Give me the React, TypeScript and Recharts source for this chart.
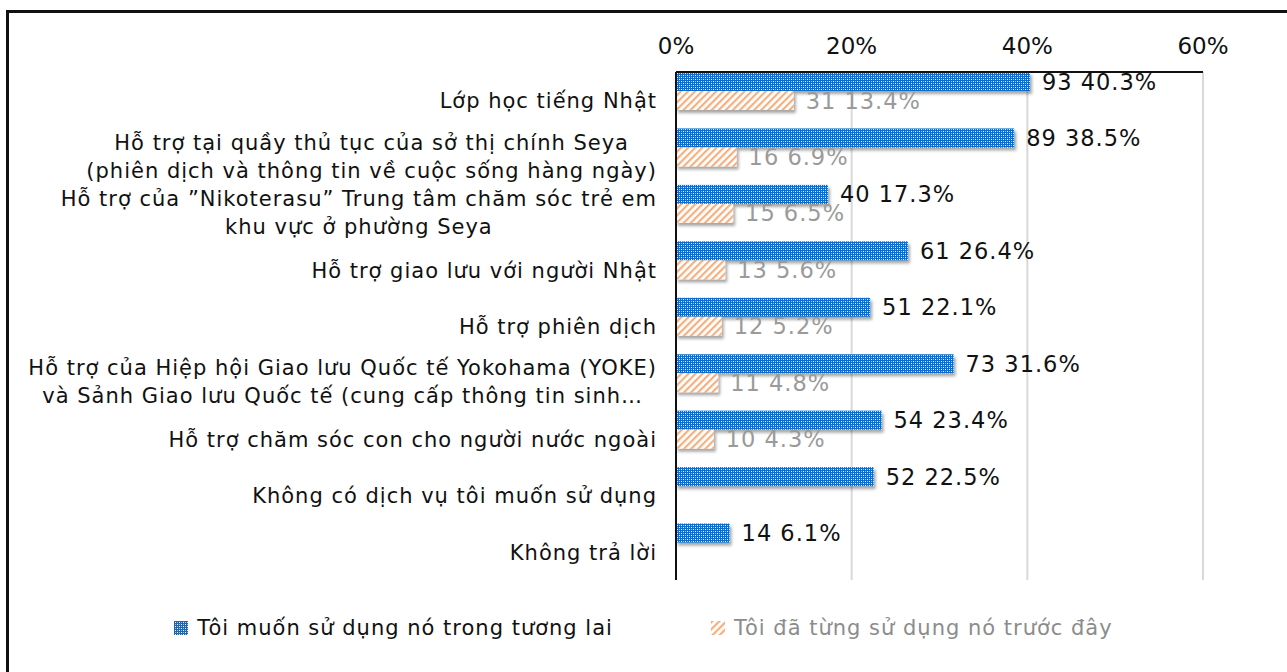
import React from 'react';
import { BarChart, Bar, XAxis, YAxis, CartesianGrid, LabelList, Legend } from 'recharts';

const categories = [
  'Lớp học tiếng Nhật',
  'Hỗ trợ tại quầy thủ tục của sở thị chính Seya\n(phiên dịch và thông tin về cuộc sống hàng ngày)',
  'Hỗ trợ của ”Nikoterasu” Trung tâm chăm sóc trẻ em\nkhu vực ở phường Seya',
  'Hỗ trợ giao lưu với người Nhật',
  'Hỗ trợ phiên dịch',
  'Hỗ trợ của Hiệp hội Giao lưu Quốc tế Yokohama (YOKE)\nvà Sảnh Giao lưu Quốc tế (cung cấp thông tin sinh…',
  'Hỗ trợ chăm sóc con cho người nước ngoài',
  'Không có dịch vụ tôi muốn sử dụng',
  'Không trả lời',
];
const futureCounts = [93, 89, 40, 61, 51, 73, 54, 52, 14];
const futurePct = [40.3, 38.5, 17.3, 26.4, 22.1, 31.6, 23.4, 22.5, 6.1];
const usedCounts = [31, 16, 15, 13, 12, 11, 10, null, null];
const usedPct = [13.4, 6.9, 6.5, 5.6, 5.2, 4.8, 4.3, null, null];
const seriesNames = ['Tôi muốn sử dụng nó trong tương lai', 'Tôi đã từng sử dụng nó trước đây'];
const xTicks = [0, 20, 40, 60];

const data = categories.map((name, i) => ({
  name,
  future: futurePct[i],
  futureCount: futureCounts[i],
  used: usedPct[i],
  usedCount: usedCounts[i],
}));

const FONT = '"DejaVu Sans", sans-serif';
const CAT_SIZE = 21;
const LS = 1;

let ctx: CanvasRenderingContext2D | null = null;
const measure = (s: string) => {
  if (!ctx) {
    ctx = document.createElement('canvas').getContext('2d');
  }
  if (!ctx) return s.length * CAT_SIZE * 0.6;
  ctx.font = `${CAT_SIZE}px ${FONT}`;
  return ctx.measureText(s).width + LS * s.length;
};

const CategoryTick = (props: any) => {
  const { x, y, payload } = props;
  const lines: string[] = String(payload.value).split('\n');
  const right = x;
  const lh = 28;
  const top = y - ((lines.length - 1) * lh) / 2;
  if (lines.length === 1) {
    return (
      <text x={right} y={y + 1} textAnchor="end" dominantBaseline="central" fontSize={CAT_SIZE} fontFamily={FONT} letterSpacing={LS} fill="#111">
        {lines[0]}
      </text>
    );
  }
  const w = Math.max(...lines.map(measure));
  const cx = right - w / 2;
  return (
    <text textAnchor="middle" fontSize={CAT_SIZE} fontFamily={FONT} letterSpacing={LS} fill="#111">
      {lines.map((l, i) => (
        <tspan key={i} x={cx} y={top + i * lh} dominantBaseline="central">
          {l}
        </tspan>
      ))}
    </text>
  );
};

const BarShape = (props: any) => {
  const { x, y, width, height, fill } = props;
  if (!width || width <= 0) return null;
  return <rect x={x} y={y} width={width} height={height} fill={fill} filter="url(#barShadow)" />;
};

const makeLabel = (countKey: 'futureCount' | 'usedCount', color: string) => (props: any) => {
  const { x, y, width, height, index, value } = props;
  if (value == null) return null;
  const count = data[index][countKey];
  return (
    <text x={x + width + 12} y={y + height / 2} dominantBaseline="central" fontSize={22.5} fontFamily={FONT} letterSpacing={1} fill={color}>
      {`${count} ${Number(value).toFixed(1)}%`}
    </text>
  );
};

const Patterns = () => (
  <defs>
    <pattern id="bluePat" width="4" height="4" patternUnits="userSpaceOnUse">
      <rect width="4" height="4" fill="#0a6cc8" />
      <rect x="1" y="1" width="1" height="1" fill="#ffffff" />
      <rect x="3" y="3" width="1" height="1" fill="#ffffff" />
      <rect x="3" y="1" width="1" height="1" fill="#8fbfea" />
      <rect x="1" y="3" width="1" height="1" fill="#8fbfea" />
    </pattern>
    <pattern id="orangePat" width="5" height="5" patternUnits="userSpaceOnUse" patternTransform="rotate(45)">
      <rect width="5" height="5" fill="#ffffff" />
      <rect width="2.2" height="5" fill="#f5b080" />
    </pattern>
    <filter id="barShadow" x="-10%" y="-30%" width="120%" height="170%">
      <feDropShadow dx="2" dy="3" stdDeviation="1.5" floodColor="#000" floodOpacity="0.35" />
    </filter>
  </defs>
);

const LegendContent = () => (
  <div style={{ display: 'flex', justifyContent: 'center', gap: 98, fontFamily: FONT, fontSize: 21, letterSpacing: LS }}>
    {seriesNames.map((n, i) => (
      <div key={n} style={{ display: 'flex', alignItems: 'center', gap: 9, color: i === 0 ? '#111' : '#8c8c8c' }}>
        <svg width={14} height={14}>
          <rect width={14} height={14} fill={i === 0 ? 'url(#bluePat)' : 'url(#orangePat)'} />
        </svg>
        <span>{n}</span>
      </div>
    ))}
  </div>
);

export default function App() {
  return (
    <div style={{ position: 'absolute', left: 0, top: 0, width: 1287, height: 672, background: '#fff', overflow: 'hidden' }}>
      <div
        style={{
          position: 'absolute',
          left: 6,
          top: 10,
          width: 1300,
          height: 700,
          borderLeft: '3px solid #111',
          borderTop: '3px solid #111',
        }}
      />
      <BarChart
        width={1287}
        height={672}
        data={data}
        layout="vertical"
        barCategoryGap={0}
        barGap={0}
        margin={{ top: 32, right: 84, bottom: 92, left: 0 }}
      >
        <Patterns />
        <CartesianGrid horizontal={false} stroke="#d9d9d9" strokeWidth={2} />
        <XAxis
          type="number"
          orientation="top"
          domain={[0, 60]}
          ticks={xTicks}
          tickFormatter={(v) => `${v}%`}
          tickLine={false}
          tickSize={0}
          tickMargin={18}
          height={40}
          axisLine={{ stroke: '#111', strokeWidth: 2 }}
          tick={{ fontSize: 23, fill: '#111', fontFamily: FONT }}
        />
        <YAxis
          type="category"
          dataKey="name"
          width={676}
          tickLine={false}
          tickSize={0}
          tickMargin={19}
          axisLine={{ stroke: '#111', strokeWidth: 2 }}
          tick={<CategoryTick />}
          interval={0}
        />
        <Bar dataKey="future" name={seriesNames[0]} fill="url(#bluePat)" shape={<BarShape />} isAnimationActive={false}>
          <LabelList dataKey="future" content={makeLabel('futureCount', '#111')} />
        </Bar>
        <Bar dataKey="used" name={seriesNames[1]} fill="url(#orangePat)" shape={<BarShape />} isAnimationActive={false}>
          <LabelList dataKey="used" content={makeLabel('usedCount', '#9a9a9a')} />
        </Bar>
        <Bar dataKey="spacer" legendType="none" fill="none" isAnimationActive={false} />
        <Legend
          layout="horizontal"
          verticalAlign="middle"
          align="center"
          content={<LegendContent />}
          wrapperStyle={{ top: 616, left: 0, width: 1287 }}
        />
      </BarChart>
    </div>
  );
}
